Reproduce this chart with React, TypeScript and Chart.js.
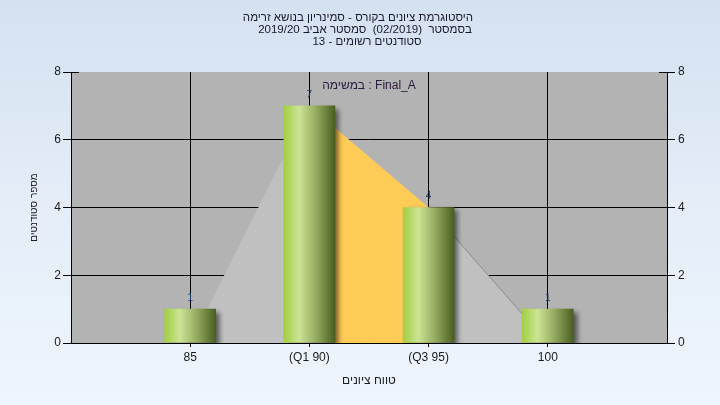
import React, { useEffect, useRef } from 'react';
import { Chart, registerables } from 'chart.js';

Chart.register(...registerables);

const titleLines = [
  'היסטוגרמת ציונים בקורס - סמינריון בנושא זרימה',
  'בסמסטר  (02/2019)  סמסטר אביב 2019/20',
  'סטודנטים רשומים - 13',
];
const categories = ['85', '(Q1 90)', '(Q3 95)', '100'];
const counts = [1, 7, 4, 1];
const polygonValues = [0, 7, 4, 0];
const quartileIdx = [1, 2];
const legendText = 'במשימה : Final_A';
const xTitle = 'טווח ציונים';
const yTitle = 'מספר סטודנטים';
const yMin = 0;
const yMax = 8;
const yStep = 2;

const FONT = '"Liberation Sans", Arial, sans-serif';
const TITLE_CENTERS = [358, 365, 367];

export default function App() {
  const ref = useRef<HTMLCanvasElement>(null);

  useEffect(() => {
    document.body.style.margin = '0';
    const canvas = ref.current;
    if (!canvas) return;

    const pos = (i: number) => i + 1;

    const barData = counts.map((c, i) => ({ x: pos(i), y: c }));
    const polyData = polygonValues.map((v, i) => ({ x: pos(i), y: v }));
    const orangeData = quartileIdx.map((i) => ({ x: pos(i), y: counts[i] }));

    const BAR_W = 51;

    const barGradient = (ctx: any) => {
      const chart = ctx.chart;
      const xs = chart.scales && chart.scales.x;
      if (!xs || !ctx.raw) return '#9FCD3E';
      const px = xs.getPixelForValue(ctx.raw.x);
      if (!isFinite(px)) return '#9FCD3E';
      const g = chart.ctx.createLinearGradient(px - BAR_W / 2, 0, px + BAR_W / 2, 0);
      g.addColorStop(0, '#A2CE42');
      g.addColorStop(0.3, '#CCE495');
      g.addColorStop(0.62, '#97AC62');
      g.addColorStop(1, '#4A5E20');
      return g;
    };

    const bgPlugin = {
      id: 'plotBg',
      beforeDraw(chart: any) {
        const { ctx, chartArea: a } = chart;
        ctx.save();
        ctx.fillStyle = '#B3B3B3';
        ctx.fillRect(a.left, a.top, a.right - a.left, a.bottom - a.top);
        ctx.restore();
      },
    };

    const shadowPlugin = {
      id: 'barShadow',
      beforeDatasetDraw(chart: any, args: any) {
        if (args.index !== 0) return;
        const ctx = chart.ctx;
        ctx.save();
        ctx.shadowColor = 'rgba(0,0,0,0.55)';
        ctx.shadowBlur = 5;
        ctx.shadowOffsetX = 4;
        ctx.shadowOffsetY = 3;
      },
      afterDatasetDraw(chart: any, args: any) {
        if (args.index !== 0) return;
        chart.ctx.restore();
      },
    };

    const textPlugin = {
      id: 'texts',
      afterDraw(chart: any) {
        const ctx = chart.ctx;
        const a = chart.chartArea;
        const meta = chart.getDatasetMeta(0);
        ctx.save();
        // inner halves of the top axis ticks
        const yTop = Math.round(chart.scales.y.getPixelForValue(yMax)) + 0.5;
        ctx.strokeStyle = '#000000';
        ctx.lineWidth = 1;
        ctx.beginPath();
        ctx.moveTo(a.left, yTop);
        ctx.lineTo(a.left + 8, yTop);
        ctx.moveTo(a.right - 8, yTop);
        ctx.lineTo(a.right, yTop);
        ctx.stroke();

        ctx.textAlign = 'center';
        ctx.textBaseline = 'middle';
        ctx.font = `10px ${FONT}`;
        ctx.fillStyle = '#1E3A6C';
        meta.data.forEach((el: any, i: number) => {
          ctx.fillText(String(counts[i]), el.x, el.y - 11);
        });
        const cx = (a.left + a.right) / 2;
        ctx.font = `12px ${FONT}`;
        ctx.fillStyle = '#2A1A3C';
        ctx.fillText(legendText, cx, a.top + 14);
        ctx.font = `11.5px ${FONT}`;
        ctx.fillStyle = '#1A1A2A';
        titleLines.forEach((t, i) => ctx.fillText(t, TITLE_CENTERS[i], 18 + i * 12));
        ctx.font = `12px ${FONT}`;
        ctx.fillText(xTitle, cx, 381);
        ctx.restore();
      },
    };

    const chart = new Chart(canvas, {
      type: 'bar',
      data: {
        datasets: [
          {
            type: 'bar',
            data: barData,
            backgroundColor: barGradient,
            borderWidth: 0,
            barThickness: BAR_W,
            order: 0,
          } as any,
          {
            type: 'line',
            data: orangeData,
            fill: 'origin',
            backgroundColor: '#FFCB57',
            borderWidth: 0,
            pointRadius: 0,
            tension: 0,
            order: 1,
          } as any,
          {
            type: 'line',
            data: polyData,
            fill: 'origin',
            backgroundColor: '#C0C0C0',
            borderWidth: 1,
            borderColor: '#8C8C8C',
            segment: {
              borderColor: (c: any) => (c.p0DataIndex >= 2 ? '#8C8C8C' : 'rgba(0,0,0,0)'),
            },
            pointRadius: 0,
            tension: 0,
            order: 2,
          } as any,
        ],
      },
      options: {
        responsive: false,
        animation: false,
        events: [],
        layout: { padding: { left: 10, right: 0, top: 72, bottom: 0 } },
        plugins: {
          legend: { display: false },
          tooltip: { enabled: false },
          title: { display: false },
        },
        scales: {
          x: {
            type: 'linear',
            min: 0,
            max: categories.length + 1,
            offset: false,
            afterBuildTicks: (s: any) => {
              s.ticks = categories.map((_, i) => ({ value: pos(i) }));
            },
            afterFit: (s: any) => {
              s.height = 62;
            },
            ticks: {
              autoSkip: false,
              maxRotation: 0,
              padding: 3,
              color: '#1A1A1A',
              font: { family: FONT, size: 12 },
              callback: (v: any) => categories[Math.round(v) - 1] ?? '',
            },
            grid: { color: '#000000', lineWidth: 1, tickLength: 4, drawTicks: true, offset: false },
            border: { color: '#000000', width: 1 },
          },
          y: {
            position: 'left',
            min: yMin,
            max: yMax,
            afterFit: (s: any) => {
              s.width = 61;
            },
            ticks: {
              stepSize: yStep,
              padding: 2,
              color: '#1A1A1A',
              font: { family: FONT, size: 12 },
            },
            grid: {
              color: (c: any) => (c.tick && c.tick.value === yMax ? 'rgba(0,0,0,0)' : '#000000'),
              tickColor: '#000000',
              lineWidth: 1,
              tickLength: 8,
            },
            border: { color: '#000000', width: 1 },
            title: {
              display: true,
              text: yTitle,
              color: '#1A1A2A',
              font: { family: FONT, size: 10 },
              padding: { top: 18, bottom: 0 },
            },
          },
          y2: {
            position: 'right',
            min: yMin,
            max: yMax,
            afterFit: (s: any) => {
              s.width = 53;
            },
            ticks: {
              stepSize: yStep,
              padding: 3,
              color: '#1A1A1A',
              font: { family: FONT, size: 12 },
            },
            grid: { drawOnChartArea: false, color: '#000000', tickLength: 8 },
            border: { color: '#000000', width: 1 },
          },
        },
      } as any,
      plugins: [bgPlugin, shadowPlugin, textPlugin],
    });

    return () => chart.destroy();
  }, []);

  return (
    <div
      style={{
        width: 720,
        height: 405,
        background: 'linear-gradient(to bottom, #D5E1F1 0%, #E4EDF8 50%, #EEF5FD 100%)',
      }}
    >
      <canvas ref={ref} width={720} height={405} style={{ display: 'block' }} />
    </div>
  );
}
